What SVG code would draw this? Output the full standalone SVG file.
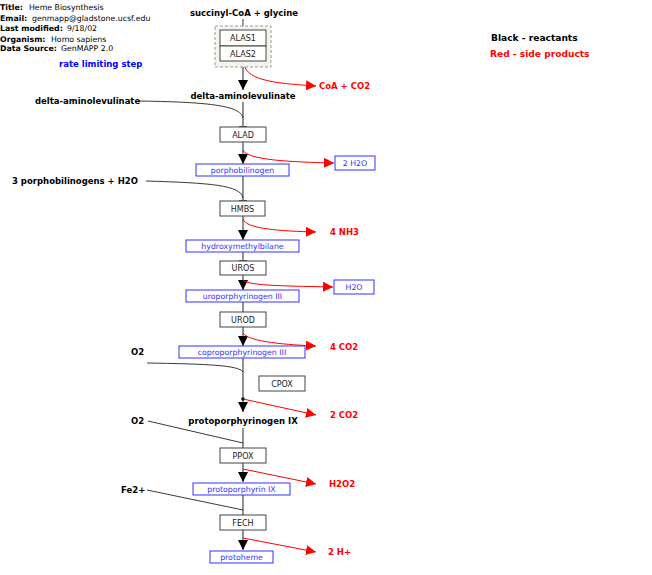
<svg xmlns="http://www.w3.org/2000/svg" width="652" height="575" viewBox="0 0 652 575">
<defs>
<style>
text{font-family:"DejaVu Sans",sans-serif}
.h{font-size:7.8px;fill:#000}
.hb{font-size:7.8px;font-weight:bold;fill:#000}
.b{font-size:8.5px;font-weight:bold;fill:#000}
.r{font-size:8.5px;font-weight:bold;fill:#ff0000}
.lg{font-size:9.1px}
.e{fill:#fff;stroke:#444;stroke-width:1}
.et{font-size:8px;fill:#222;text-anchor:middle}
.m{fill:#fff;stroke:#3333ff;stroke-width:1}
.mt{font-size:7.8px;fill:#3333ff;text-anchor:middle}
.ln{fill:none;stroke:#555;stroke-width:1.3}
.sl{fill:none;stroke:#222;stroke-width:0.9}
.rl{fill:none;stroke:#ff0000;stroke-width:1}
</style>
<marker id="ah" viewBox="0 0 10 10" refX="10" refY="5" markerWidth="10" markerHeight="10" markerUnits="userSpaceOnUse" orient="auto"><path d="M0,0L10,5L0,10z" fill="#000"/></marker>
<marker id="rh" viewBox="0 0 10 10" refX="10" refY="5" markerWidth="10" markerHeight="10" markerUnits="userSpaceOnUse" orient="auto"><path d="M0,0L10,5L0,10z" fill="#ff0000"/></marker>
</defs>
<g id="header">
<text class="hb" x="0" y="10">Title:</text><text class="h" x="29" y="10">Heme Biosynthesis</text>
<text class="hb" x="0" y="21">Email:</text><text class="h" x="32" y="21">genmapp@gladstone.ucsf.edu</text>
<text class="hb" x="0" y="31">Last modified:</text><text class="h" x="67" y="31">9/18/02</text>
<text class="hb" x="0" y="42">Organism:</text><text class="h" x="51" y="42">Homo sapiens</text>
<text class="hb" x="0" y="51">Data Source:</text><text class="h" x="61" y="51">GenMAPP 2.0</text>
<text x="59" y="67" style="font-size:8.5px;font-weight:bold;fill:#0000ff">rate limiting step</text>
<text class="b lg" x="491" y="41">Black - reactants</text>
<text class="r lg" x="490" y="57">Red - side products</text>
</g>
<g id="connectors">
<path class="sl" d="M243,19V30"/>
<path class="ln" d="M243,61V90" marker-end="url(#ah)"/>
<path class="rl" d="M243,61C245,80 270,83 316,86" marker-end="url(#rh)"/>
<path class="ln" d="M243,102V126"/>
<path class="sl" d="M138,101C205,102 241,105 243,118"/>
<path class="ln" d="M243,142V164" marker-end="url(#ah)"/>
<path class="rl" d="M243,150C247,160 290,162 334,163" marker-end="url(#rh)"/>
<path class="ln" d="M243,176V200"/>
<path class="sl" d="M146,181C210,183 241,185 243,198"/>
<path class="ln" d="M243,216V240" marker-end="url(#ah)"/>
<path class="rl" d="M243,219C246,229 280,231 316,232" marker-end="url(#rh)"/>
<path class="ln" d="M243,252V260"/>
<path class="ln" d="M243,275V290" marker-end="url(#ah)"/>
<path class="rl" d="M243,280C248,286 290,286 333,287" marker-end="url(#rh)"/>
<path class="ln" d="M243,302V312"/>
<path class="ln" d="M243,327V346" marker-end="url(#ah)"/>
<path class="rl" d="M243,333C248,342 290,345 316,346" marker-end="url(#rh)"/>
<path class="ln" d="M243,358V412" marker-end="url(#ah)"/>
<path class="sl" d="M147,363C205,364 239,365 243,372"/>
<circle cx="243" cy="399" r="1.8" fill="#000"/>
<path class="rl" d="M243,399L316,415" marker-end="url(#rh)"/>
<path class="ln" d="M243,428V448"/>
<path class="sl" d="M148,421L243,443"/>
<path class="ln" d="M243,463V482" marker-end="url(#ah)"/>
<path class="rl" d="M243,469L316,484" marker-end="url(#rh)"/>
<path class="ln" d="M243,495V515"/>
<path class="sl" d="M147,490L243,510"/>
<path class="ln" d="M243,530V550" marker-end="url(#ah)"/>
<path class="rl" d="M243,538L316,552" marker-end="url(#rh)"/>
<path d="M239,127H247M239,201H247M239,261H247" stroke="#222" stroke-width="1.5"/>
</g>
<g id="succinyl"><text class="b" x="244" y="16" text-anchor="middle">succinyl-CoA + glycine</text></g>
<g id="alas-group"><rect x="215" y="26" width="56" height="41" fill="#f4f4ec" stroke="#999" stroke-dasharray="3,2"/></g>
<g id="ALAS1"><rect class="e" x="220" y="30" width="46" height="16"/><text class="et" x="243" y="41">ALAS1</text></g>
<g id="ALAS2"><rect class="e" x="220" y="46" width="46" height="15"/><text class="et" x="243" y="56.5">ALAS2</text></g>
<g id="coa"><text class="r" x="319" y="89">CoA + CO2</text></g>
<g id="ala"><text class="b" x="243" y="99" text-anchor="middle">delta-aminolevulinate</text></g>
<g id="ala2"><text class="b" x="35" y="104">delta-aminolevulinate</text></g>
<g id="ALAD"><rect class="e" x="220" y="127" width="46" height="15"/><text class="et" x="243" y="137.5">ALAD</text></g>
<g id="h2o1"><rect class="m" x="335" y="156" width="40" height="14"/><text class="mt" x="355" y="166">2 H2O</text></g>
<g id="pbg"><rect class="m" x="196" y="164" width="93" height="12"/><text class="mt" x="242.5" y="173">porphobilinogen</text></g>
<g id="pbg3"><text class="b" x="12" y="184">3 porphobilinogens + H2O</text></g>
<g id="HMBS"><rect class="e" x="220" y="201" width="45" height="15"/><text class="et" x="242.5" y="211.5">HMBS</text></g>
<g id="nh3"><text class="r" x="330" y="235">4 NH3</text></g>
<g id="hmb"><rect class="m" x="186" y="240" width="113" height="12"/><text class="mt" x="242.5" y="249">hydroxymethylbilane</text></g>
<g id="UROS"><rect class="e" x="220" y="261" width="46" height="14"/><text class="et" x="243" y="271">UROS</text></g>
<g id="h2o2"><rect class="m" x="334" y="280" width="40" height="14"/><text class="mt" x="354" y="290">H2O</text></g>
<g id="uro"><rect class="m" x="186" y="290" width="113" height="12"/><text class="mt" x="242.5" y="299">uroporphyrinogen III</text></g>
<g id="UROD"><rect class="e" x="220" y="312" width="46" height="15"/><text class="et" x="243" y="322.5">UROD</text></g>
<g id="co2a"><text class="r" x="330" y="350">4 CO2</text></g>
<g id="copro"><rect class="m" x="179" y="346" width="126" height="12"/><text class="mt" x="242" y="355">coproporphyrinogen III</text></g>
<g id="o2a"><text class="b" x="131" y="355">O2</text></g>
<g id="CPOX"><rect class="e" x="259" y="376" width="46" height="15"/><text class="et" x="282" y="386.5">CPOX</text></g>
<g id="co2b"><text class="r" x="330" y="418">2 CO2</text></g>
<g id="protogen"><text class="b" x="243" y="424" text-anchor="middle">protoporphyrinogen IX</text></g>
<g id="o2b"><text class="b" x="131" y="424">O2</text></g>
<g id="PPOX"><rect class="e" x="220" y="448" width="46" height="15"/><text class="et" x="243" y="458.5">PPOX</text></g>
<g id="h2o2b"><text class="r" x="329" y="487">H2O2</text></g>
<g id="proto"><rect class="m" x="193" y="483" width="97" height="12"/><text class="mt" x="241.5" y="492">protoporphyrin IX</text></g>
<g id="fe"><text class="b" x="121" y="493">Fe2+</text></g>
<g id="FECH"><rect class="e" x="220" y="515" width="46" height="15"/><text class="et" x="243" y="525.5">FECH</text></g>
<g id="hplus"><text class="r" x="328" y="555">2 H+</text></g>
<g id="heme"><rect class="m" x="210" y="551" width="63" height="12"/><text class="mt" x="241.5" y="560">protoheme</text></g>
</svg>
